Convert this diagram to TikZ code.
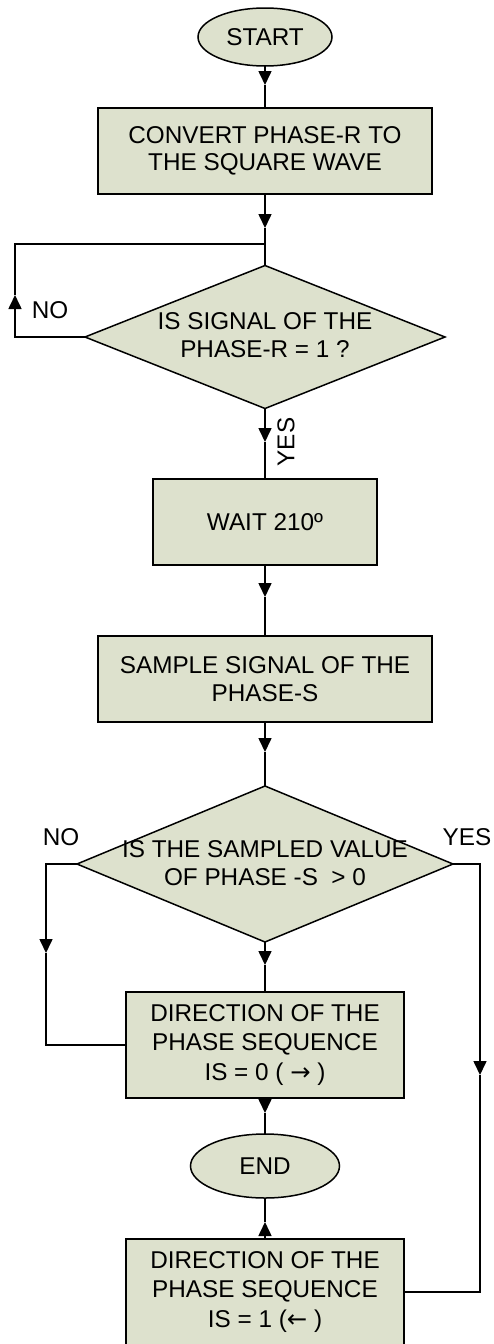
\documentclass[tikz,border=0pt]{standalone}
\usepackage{fontspec}
\setmainfont{Liberation Sans}
\newfontfamily\arrowfont{DejaVu Sans}
\usetikzlibrary{arrows.meta,shapes.geometric}
\definecolor{boxfill}{RGB}{221,225,205}
\begin{document}
\begin{tikzpicture}[x=1pt,y=-1pt,
  every node/.style={inner sep=0pt,outer sep=0pt},
  txt/.style={font=\fontsize{24.3}{27.5}\selectfont,align=center},
  txtwide/.style={font=\fontsize{24.3}{29.3}\selectfont,align=center},
  proc/.style={draw=black,fill=boxfill,line width=1.5pt,rectangle},
  term/.style={draw=black,fill=boxfill,line width=1.5pt,ellipse},
  decide/.style={draw=black,fill=boxfill,line width=1.5pt,diamond},
  conn/.style={line width=1.6pt},
  tipped/.style={conn,-{Triangle[length=14pt,width=13pt]}}]

\useasboundingbox (0,0) rectangle (494,1344);
\clip (0,0) rectangle (494,1344);

% terminals and process boxes
\node[term,txt,minimum width=134pt,minimum height=58pt] (start) at (265,37) {START};
\node[proc,txt,minimum width=334pt,minimum height=86pt] (conv) at (265,151)
  {CONVERT PHASE-R TO\\THE SQUARE WAVE};
\node[decide,minimum width=360pt,minimum height=143pt] (d1) at (265,337) {};
\node[txt] at (265,335) {IS SIGNAL OF THE\\PHASE-R = 1 ?};
\node[proc,txt,minimum width=224pt,minimum height=86pt] (wait) at (265,522) {WAIT 210º};
\node[proc,txt,minimum width=334pt,minimum height=86pt] (sample) at (265,679)
  {SAMPLE SIGNAL OF THE\\PHASE-S};
\node[decide,minimum width=376pt,minimum height=156pt] (d2) at (265,864) {};
\node[txt] at (265,863) {IS THE SAMPLED VALUE\\OF PHASE -S\ \ > 0};
\node[proc,txtwide,minimum width=278pt,minimum height=106pt] (dir0) at (265,1045)
  {DIRECTION OF THE\\PHASE SEQUENCE\\IS = 0 ( {\arrowfont →} )};
\node[term,txt,minimum width=149pt,minimum height=64pt] (end) at (265,1166) {END};
\node[proc,txtwide,minimum width=278pt,minimum height=106pt] (dir1) at (265,1292)
  {DIRECTION OF THE\\PHASE SEQUENCE\\IS = 1 ({\arrowfont ←} )};

% branch labels
\node[txt] (no1) at (50,310) {NO};
\node[txt,rotate=90] (yes1) at (286,442) {YES};
\node[txt] (no2) at (61,837) {NO};
\node[txt] (yes2) at (467,837) {YES};

% junction and corner points of the side branches
\coordinate (j1) at (265,244);
\coordinate (loopc) at (15,244);

% arrowhead tips, placed part-way along each connector
\coordinate (t1) at (265,85);
\coordinate (t2) at (265,228);
\coordinate (t3) at (15,295);
\coordinate (t4) at (265,442);
\coordinate (t5) at (265,597);
\coordinate (t6) at (265,752);
\coordinate (t7) at (46,953);
\coordinate (t8) at (265,965);
\coordinate (t9) at (480,1075);
\coordinate (t10) at (265,1113);
\coordinate (t11) at (265,1222);

% connectors
\draw[tipped] (start) -- (t1);   \draw[conn] (t1) -- (conv);
\draw[tipped] (conv) -- (t2);    \draw[conn] (t2) -- (d1.north);
\draw[tipped] (d1.west) -| (t3); \draw[conn] (t3) -- (loopc) -- (j1);
\draw[tipped] (d1.south) -- (t4); \draw[conn] (t4) -- (wait);
\draw[tipped] (wait) -- (t5);    \draw[conn] (t5) -- (sample);
\draw[tipped] (sample) -- (t6);  \draw[conn] (t6) -- (d2.north);
\draw[tipped] (d2.west) -| (t7); \draw[conn] (t7) |- (dir0.west);
\draw[tipped] (d2.south) -- (t8); \draw[conn] (t8) -- (dir0);
\draw[tipped] (d2.east) -| (t9); \draw[conn] (t9) |- (dir1.east);
\draw[tipped] (dir0) -- (t10);   \draw[conn] (t10) -- (end);
\draw[tipped] (dir1) -- (t11);   \draw[conn] (t11) -- (end);
\end{tikzpicture}
\end{document}
